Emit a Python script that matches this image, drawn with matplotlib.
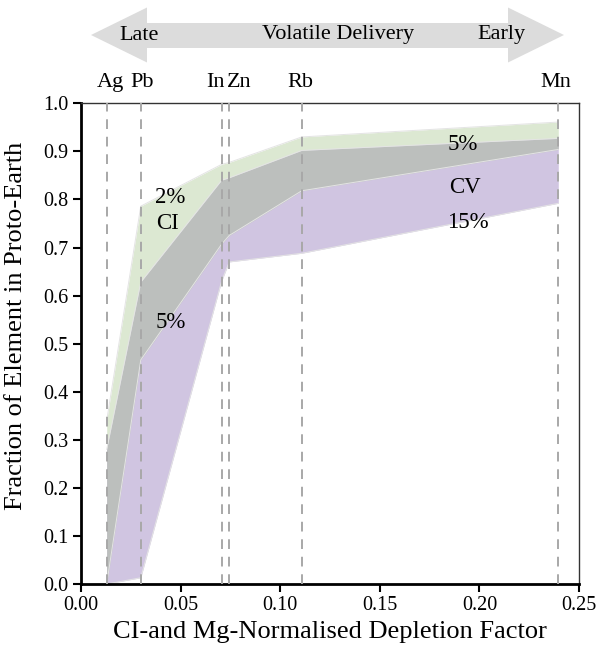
import numpy as np
import matplotlib
matplotlib.use("Agg")
import matplotlib.pyplot as plt
from matplotlib.patches import Polygon

plt.rcParams['font.family'] = ['Liberation Serif', 'DejaVu Serif']

# element depletion factors
elements = ["Ag", "Pb", "In", "Zn", "Rb", "Mn"]
depletion = [0.0129, 0.0300, 0.0706, 0.0744, 0.1108, 0.2396]
label_x = [0.0146, 0.0309, 0.0673, 0.0793, 0.1099, 0.2385]

# CI band (2% upper, 5% lower)
ci_2 = [0.34, 0.786, 0.873, 0.877, 0.930, 0.961]
ci_5 = [0.00, 0.466, 0.707, 0.725, 0.818, 0.904]
# CV band (5% upper, 15% lower)
cv_5 = [0.28, 0.628, 0.840, 0.845, 0.902, 0.927]
cv_15 = [0.00, 0.013, 0.630, 0.670, 0.688, 0.792]

green = "#dce8d2"
purple = "#d0c5e1"
grey = "#bcbfbd"

fig = plt.figure(figsize=(5.98, 6.51), dpi=100)
ax = fig.add_axes([81/598, 67/651, 498/598, 480.7/651])

x = np.array(depletion)
ci2 = np.array(ci_2); ci5 = np.array(ci_5)
cv5 = np.array(cv_5); cv15 = np.array(cv_15)

ax.fill_between(x, ci5, ci2, color=green, lw=0, zorder=1)
ax.fill_between(x, cv15, cv5, color=purple, lw=0, zorder=1)
lo = np.maximum(ci5, cv15)
hi = np.minimum(ci2, cv5)
ax.fill_between(x, lo, hi, where=hi > lo, color=grey, lw=0, zorder=2)
for arr in (ci2, ci5, cv5, cv15):
    ax.plot(x, arr, color="#e4e4e4", lw=0.7, zorder=2.5)

for d in depletion:
    ax.axvline(d, color="#a8a8a8", lw=1.4, ls=(0, (5, 4)), zorder=3)

ax.set_xlim(0, 0.25)
ax.set_ylim(0, 1.0)
ax.set_xticks(np.arange(0, 0.2501, 0.05))
ax.set_xticklabels([f"{v:.2f}" for v in np.arange(0, 0.2501, 0.05)])
ax.set_yticks(np.arange(0, 1.001, 0.1))
ax.set_yticklabels([f"{v:.1f}" for v in np.arange(0, 1.001, 0.1)])
ax.tick_params(axis='both', labelsize=14.5, direction='out', length=6, width=1.5,
               colors='black', pad=3)
ax.tick_params(top=False, right=False)

for s in ("left", "bottom"):
    ax.spines[s].set_linewidth(2.0)
    ax.spines[s].set_color("black")
for s in ("top", "right"):
    ax.spines[s].set_linewidth(1.0)
    ax.spines[s].set_color("#333333")

ax.set_xlabel("CI-and Mg-Normalised Depletion Factor", fontsize=19, labelpad=4)
ax.set_ylabel("Fraction of Element in Proto-Earth", fontsize=19)
ax.yaxis.set_label_coords(-0.108, 0.538)

# band labels
fs_band = 16.5
ax.text(0.0450, 0.805, "2%", fontsize=fs_band, ha="center", va="center", zorder=5)
ax.text(0.0436, 0.75, "CI", fontsize=fs_band, ha="center", va="center", zorder=5)
ax.text(0.0450, 0.545, "5%", fontsize=fs_band, ha="center", va="center", zorder=5)
ax.text(0.1918, 0.915, "5%", fontsize=fs_band, ha="center", va="center", zorder=5)
ax.text(0.1928, 0.825, "CV", fontsize=fs_band, ha="center", va="center", zorder=5)
ax.text(0.1943, 0.752, "15%", fontsize=fs_band, ha="center", va="center", zorder=5)

# element labels above axes
for lx, el in zip(label_x, elements):
    ax.text(lx, 1.0 + 21/480.7, el, fontsize=16, ha="center", va="center",
            transform=ax.get_xaxis_transform(), clip_on=False)

# double arrow at top (figure pixel coordinates)
def fx(px):
    return px / 598
def fy(py):
    return 1 - py / 651

pts_px = [(91, 35), (147, 7.5), (147, 23), (508, 23), (508, 7.5), (564, 35),
          (508, 62.5), (508, 48), (147, 48), (147, 62.5)]
arrow = Polygon([(fx(a), fy(b)) for a, b in pts_px], closed=True,
                transform=fig.transFigure, facecolor="#dcdcdc", edgecolor="none")
fig.patches.append(arrow)
fig.text(fx(139), fy(35), "Late", fontsize=16, ha="center", va="center")
fig.text(fx(338), fy(35), "Volatile Delivery", fontsize=16, ha="center", va="center")
fig.text(fx(501), fy(35), "Early", fontsize=16, ha="center", va="center")

fig.savefig("out.png", dpi=100)
